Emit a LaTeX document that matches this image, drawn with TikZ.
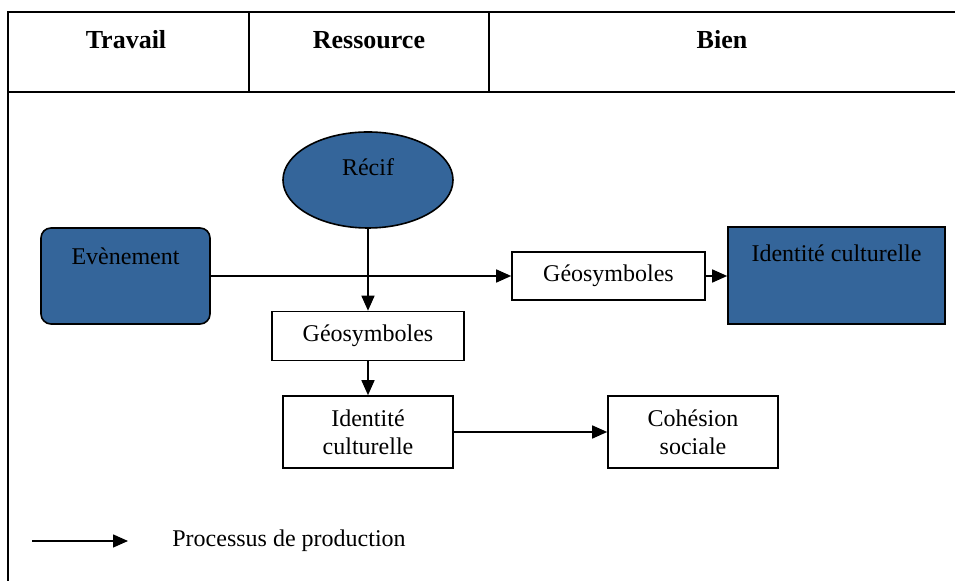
\documentclass[tikz,border=0pt]{standalone}
\usepackage{fontspec}
\setmainfont{Liberation Serif}
\usepackage{tikz}
\usetikzlibrary{shapes.geometric, arrows.meta, positioning, calc}
\definecolor{cBlue}{RGB}{52,101,154}
\tikzset{
	rond/.style    ={ellipse, draw=black, line width=0.8pt, fill=cBlue, inner sep=0pt},
	evt/.style     ={rectangle, rounded corners=5pt, draw=black, line width=0.8pt, fill=cBlue, inner sep=0pt},
	bien/.style    ={rectangle, draw=black, line width=0.8pt, fill=cBlue, inner sep=0pt},
	boite/.style   ={rectangle, draw=black, line width=0.8pt, fill=white, align=center, inner sep=0pt},
	entete/.style  ={font=\fontsize{13}{15}\selectfont\bfseries},
	flux/.style    ={-{Triangle[length=7.5pt, width=6.5pt]}, line width=0.75pt},
	cadre/.style   ={line width=1pt},
}

\begin{document}
\begin{tikzpicture}[x=0.5pt, y=-0.5pt, font=\fontsize{12}{14}\selectfont]
	\useasboundingbox (0,0) rectangle (955,581);
	% tableau
	\draw[cadre] (955,12) -- (8,12) -- (8,581);
	\draw[cadre] (8,92) -- (955,92);
	\draw[cadre] (249,12) -- (249,92);
	\draw[cadre] (489,12) -- (489,92);
	\node[entete] (travail) at (126,40) {Travail};
	\node[entete] (ressource) at (369,40) {Ressource};
	\node[entete] (bienT) at (722,40) {Bien};
	% noeuds
	\node[rond, minimum width=85pt, minimum height=48pt,
		label={[anchor=center, yshift=-18pt]north:Récif}] (recif) at (368,180) {};
	\node[evt, minimum width=84.5pt, minimum height=48pt,
		label={[anchor=center, yshift=-14.5pt]north:Evènement}] (evenement) at (125.5,276) {};
	\node[boite, minimum width=96.5pt, minimum height=24pt] (geoA) at (608.5,276) {Géosymboles};
	\node[bien, minimum width=108.5pt, minimum height=48.5pt,
		label={[anchor=center, yshift=-13.5pt]north:Identité culturelle}] (identA) at (836.5,275.5) {};
	\node[boite, minimum width=96pt, minimum height=24.5pt] (geoB) at (368,336) {Géosymboles};
	\node[boite, minimum width=85pt, minimum height=36pt] (identB) at (368,432) {Identité\\culturelle};
	\node[boite, minimum width=85pt, minimum height=36pt] (cohesion) at (693,432) {Cohésion\\sociale};
	% fleches
	\draw[flux] (evenement.east) -- (geoA.west);
	\draw[flux] (geoA.east) -- (identA.west |- geoA.east);
	\draw[flux] (recif.south) -- (geoB.north);
	\draw[flux] (geoB.south) -- (identB.north);
	\draw[flux] (identB.east) -- (cohesion.west);
	% legende
	\coordinate (legA) at (32,541);
	\coordinate (legB) at (128,541);
	\draw[flux] (legA) -- (legB);
	\node[anchor=west, inner sep=0pt] (legT) at (172,541) {Processus de production};
\end{tikzpicture}
\end{document}
